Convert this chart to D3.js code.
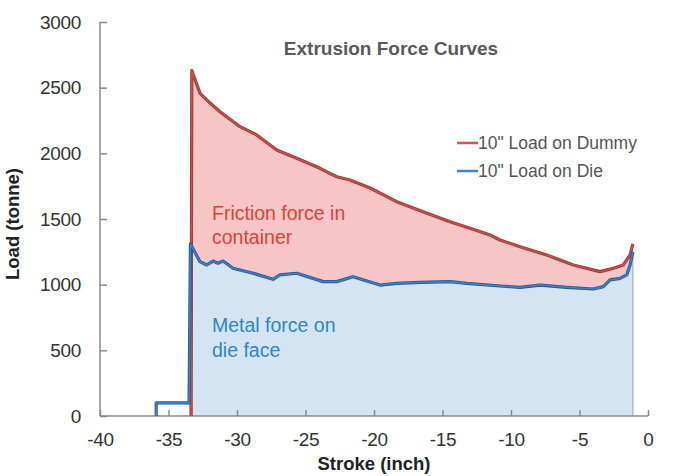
<!DOCTYPE html>
<html>
<head>
<meta charset="utf-8">
<script src="https://cdn.jsdelivr.net/npm/d3@7"></script>
<style>
  body { margin: 0; background: #fff; }
  svg { font-family: "Liberation Sans", Arial, sans-serif; }
  .axis path, .axis line { stroke: #8a8a8a; stroke-width: 1.5; }
  .axis text { font-size: 19px; fill: #333; letter-spacing: -0.3px; }
</style>
</head>
<body>
<div id="chart"></div>
<script>
// values
const dummyStroke = [-33.35, -33.3, -32.7, -31.97, -31.24, -29.78, -28.56, -27.1, -25.64, -23.94, -22.72,
  -21.75, -20.29, -18.34, -16.42, -14.45, -12.99, -11.53, -10.8, -9.34, -7.39, -5.45, -3.5, -2.53, -1.8, -1.31, -1.1];
const dummyLoad = [0, 2630, 2457, 2383, 2317, 2203, 2140, 2025, 1962, 1886, 1822,
  1797, 1736, 1632, 1556, 1479, 1429, 1378, 1340, 1289, 1226, 1150, 1099, 1125, 1150, 1226, 1310];

const dieStroke = [-35.9, -35.9, -33.5, -33.4, -32.7, -32.21, -31.75, -31.39, -31.02, -30.29, -28.83, -27.37,
  -26.86, -25.64, -23.72, -22.72, -21.53, -19.56, -18.34, -16.64, -14.45, -13.23, -10.8, -9.34, -7.88,
  -5.94, -3.99, -3.26, -2.77, -2.04, -1.55, -1.31, -1.1];
const dieLoad = [0, 100, 100, 1310, 1175, 1150, 1180, 1163, 1180, 1125, 1087, 1041,
  1074, 1087, 1023, 1023, 1061, 997, 1010, 1018, 1023, 1010, 990, 980, 997,
  980, 967, 985, 1036, 1048, 1074, 1150, 1250];

const xTicks = [-40, -35, -30, -25, -20, -15, -10, -5, 0];
const yTicks = [0, 500, 1000, 1500, 2000, 2500, 3000];
const seriesNames = ['10" Load on Dummy', '10" Load on Die'];

const width = 673, height = 476;
const margin = { top: 22, right: 25, bottom: 60, left: 100 };

const svg = d3.select('#chart').append('svg')
  .attr('width', width)
  .attr('height', height);

const x = d3.scaleLinear().domain([-40, 0]).range([margin.left, width - margin.right]);
const y = d3.scaleLinear().domain([0, 3000]).range([height - margin.bottom, margin.top]);

const dummy = dummyStroke.map((s, i) => ({ s, v: dummyLoad[i] }));
const die = dieStroke.map((s, i) => ({ s, v: dieLoad[i] }));
const dieFill = die.filter((d) => d.s >= -33.5);

const area = d3.area().x((d) => x(d.s)).y0(y(0)).y1((d) => y(d.v));
const line = d3.line().x((d) => x(d.s)).y((d) => y(d.v));

/* fills: friction zone (pink) sits under the die-face zone (blue) */
svg.append('path').datum(dummy)
  .attr('d', area)
  .attr('fill', '#f7c5c5');
svg.append('path').datum(dieFill)
  .attr('d', area)
  .attr('fill', '#d5e4f2');

// thin edge at the end of the stroke
svg.append('line')
  .attr('x1', x(-1.1)).attr('x2', x(-1.1))
  .attr('y1', y(0)).attr('y2', y(1250))
  .attr('stroke', '#8fa3b8').attr('stroke-width', 1);

/* axes */
const plain = (d) => (d < 0 ? '-' + Math.abs(d) : String(d));

svg.append('g')
  .attr('class', 'axis')
  .attr('transform', `translate(0,${y(0)})`)
  .call(d3.axisBottom(x).tickValues(xTicks).tickFormat(plain).tickSize(-6).tickSizeOuter(0).tickPadding(17))
  .call((g) => g.select('.domain').attr('d', `M${x(-40)},0H${x(0)}`));

svg.append('g')
  .attr('class', 'axis')
  .attr('transform', `translate(${x(-40)},0)`)
  .call(d3.axisLeft(y).tickValues(yTicks).tickFormat(plain).tickSize(-7).tickSizeOuter(0).tickPadding(19))
  .call((g) => g.select('.domain').attr('d', `M0,${y(3000)}V${y(0)}`));

/* lines: dark under-stroke then the coloured stroke */
svg.append('path').datum(dummy)
  .attr('d', line).attr('fill', 'none')
  .attr('stroke', '#8e3a38').attr('stroke-width', 3.2).attr('stroke-linejoin', 'round');
svg.append('path').datum(dummy)
  .attr('d', line).attr('fill', 'none')
  .attr('stroke', '#c8504c').attr('stroke-width', 1.6).attr('stroke-linejoin', 'round');

svg.append('path').datum(die)
  .attr('d', line).attr('fill', 'none')
  .attr('stroke', '#23588f').attr('stroke-width', 3.2).attr('stroke-linejoin', 'round');
svg.append('path').datum(die)
  .attr('d', line).attr('fill', 'none')
  .attr('stroke', '#3b82c4').attr('stroke-width', 1.6).attr('stroke-linejoin', 'round');

/* titles */
svg.append('text')
  .attr('x', 391).attr('y', 55)
  .attr('text-anchor', 'middle')
  .attr('font-size', 19).attr('font-weight', 'bold').attr('fill', '#595959')
  .text('Extrusion Force Curves');

svg.append('text')
  .attr('x', 374).attr('y', 470)
  .attr('text-anchor', 'middle')
  .attr('font-size', 18.5).attr('font-weight', 'bold').attr('fill', '#222')
  .text('Stroke (inch)');

svg.append('text')
  .attr('transform', 'translate(19,224)rotate(-90)')
  .attr('text-anchor', 'middle')
  .attr('font-size', 18.5).attr('font-weight', 'bold').attr('fill', '#222')
  .text('Load (tonne)');

/* annotations */
const red = svg.append('text').attr('font-size', 19.5).attr('fill', '#d9443f');
red.append('tspan').attr('x', 212).attr('y', 220).text('Friction force in');
red.append('tspan').attr('x', 212).attr('y', 244).text('container');

const blue = svg.append('text').attr('font-size', 19.5).attr('fill', '#2f85c7');
blue.append('tspan').attr('x', 212).attr('y', 332).text('Metal force on');
blue.append('tspan').attr('x', 212).attr('y', 357).text('die face');

/* legend */
const legend = svg.append('g');
const legendColors = ['#d0574f', '#3d85c6'];
seriesNames.forEach((name, i) => {
  const ly = 143 + i * 28;
  legend.append('line')
    .attr('x1', 457).attr('x2', 478).attr('y1', ly).attr('y2', ly)
    .attr('stroke', legendColors[i]).attr('stroke-width', 2.5);
  legend.append('text')
    .attr('x', 478).attr('y', ly + 6)
    .attr('font-size', 17.5).attr('fill', '#555')
    .text(name);
});
</script>
</body>
</html>
